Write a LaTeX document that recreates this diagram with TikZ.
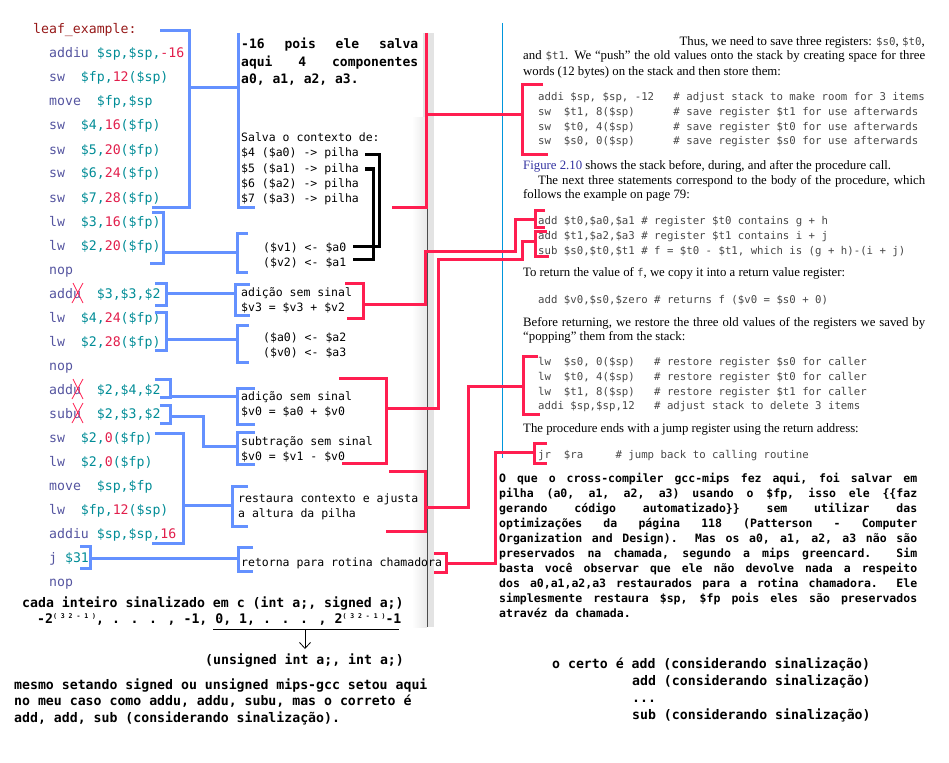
\documentclass[tikz,border=0pt]{standalone}
\usepackage{fontspec}
\setmainfont{Liberation Serif}
\newfontfamily\codefont{DejaVu Sans Mono}
\usepackage{xcolor}
\usetikzlibrary{arrows.meta}

\definecolor{mnem}{RGB}{85,85,160}
\definecolor{regc}{RGB}{0,140,150}
\definecolor{numc}{RGB}{225,30,75}
\definecolor{labc}{RGB}{150,25,25}
\definecolor{blu}{RGB}{100,145,255}
\definecolor{rd}{RGB}{255,30,80}
\definecolor{bkg}{RGB}{70,70,70}
\definecolor{figc}{RGB}{50,50,160}
\definecolor{pageln}{RGB}{0,150,220}

\newcommand{\mn}[1]{\textcolor{mnem}{#1}}
\newcommand{\rg}[1]{\textcolor{regc}{#1}}
\newcommand{\nm}[1]{\textcolor{numc}{#1}}
\newcommand{\bc}[1]{{\codefont\fontsize{10.8}{13}\selectfont\color{bkg}#1}}
\newcommand{\jus}[2]{{\spaceskip=\fontdimen2\font plus 1fil minus .3\fontdimen2\font\makebox[#1][s]{#2}}}
\newcommand{\pw}{\raisebox{5pt}{\fontsize{6.5}{7}\selectfont( 3 2 - 1 )}}

\tikzset{
  code/.style={font=\codefont\fontsize{13.2}{15}\selectfont, anchor=base west, inner sep=0pt},
  note/.style={font=\codefont\fontsize{11.5}{15}\selectfont, anchor=base west, inner sep=0pt},
  bnote/.style={font=\codefont\bfseries\fontsize{13}{17}\selectfont, anchor=base west, inner sep=0pt},
  bpar/.style={font=\codefont\bfseries\fontsize{11.5}{15}\selectfont, anchor=base west, inner sep=0pt},
  bbig/.style={font=\codefont\bfseries\fontsize{13.2}{17}\selectfont, anchor=base west, inner sep=0pt},
  book/.style={font=\fontsize{12.8}{15}\selectfont, anchor=base west, inner sep=0pt},
  bcode/.style={font=\codefont\fontsize{10.7}{13}\selectfont, text=bkg, anchor=base west, inner sep=0pt},
  blubr/.style={draw=blu, line width=3pt},
  redbr/.style={draw=rd, line width=3pt},
  blkbr/.style={draw=black, line width=3pt},
  cross/.style={draw=rd, line width=.8pt}
}

\begin{document}
\begin{tikzpicture}[x=1pt,y=-1pt]
\useasboundingbox (0,0) rectangle (949,762);

\fill[gray!22] (423,33) rectangle (434,118);
\shade[left color=white, right color=gray!18] (412,118) rectangle (427,627);
\fill[gray!22] (427,118) rectangle (434,627);
\draw[black!70, line width=1pt] (427.5,33) -- (427.5,627);
\draw[pageln, line width=.8pt] (502,23) -- (502,458);

\node[code, text=labc] (l0) at (33,34) {leaf\_example:};
\node[code] (l1) at (49,58) {\mn{addiu} \rg{\$sp,\$sp,}\nm{-16}};
\node[code] (l2) at (49,82) {\mn{sw}~~\rg{\$fp,}\nm{12}\rg{(\$sp)}};
\node[code] (l3) at (49,106) {\mn{move}~~\rg{\$fp,\$sp}};
\node[code] (l4) at (49,130) {\mn{sw}~~\rg{\$4,}\nm{16}\rg{(\$fp)}};
\node[code] (l5) at (49,154) {\mn{sw}~~\rg{\$5,}\nm{20}\rg{(\$fp)}};
\node[code] (l6) at (49,178) {\mn{sw}~~\rg{\$6,}\nm{24}\rg{(\$fp)}};
\node[code] (l7) at (49,202) {\mn{sw}~~\rg{\$7,}\nm{28}\rg{(\$fp)}};
\node[code] (l8) at (49,226) {\mn{lw}~~\rg{\$3,}\nm{16}\rg{(\$fp)}};
\node[code] (l9) at (49,250) {\mn{lw}~~\rg{\$2,}\nm{20}\rg{(\$fp)}};
\node[code] (l10) at (49,274) {\mn{nop}};
\node[code] (l11) at (49,298) {\mn{addu}~~\rg{\$3,\$3,\$2}};
\node[code] (l12) at (49,322) {\mn{lw}~~\rg{\$4,}\nm{24}\rg{(\$fp)}};
\node[code] (l13) at (49,346) {\mn{lw}~~\rg{\$2,}\nm{28}\rg{(\$fp)}};
\node[code] (l14) at (49,370) {\mn{nop}};
\node[code] (l15) at (49,394) {\mn{addu}~~\rg{\$2,\$4,\$2}};
\node[code] (l16) at (49,418) {\mn{subu}~~\rg{\$2,\$3,\$2}};
\node[code] (l17) at (49,442) {\mn{sw}~~\rg{\$2,}\nm{0}\rg{(\$fp)}};
\node[code] (l18) at (49,466) {\mn{lw}~~\rg{\$2,}\nm{0}\rg{(\$fp)}};
\node[code] (l19) at (49,490) {\mn{move}~~\rg{\$sp,\$fp}};
\node[code] (l20) at (49,514) {\mn{lw}~~\rg{\$fp,}\nm{12}\rg{(\$sp)}};
\node[code] (l21) at (49,538) {\mn{addiu} \rg{\$sp,\$sp,}\nm{16}};
\node[code] (l22) at (49,562) {\mn{j} \rg{\$31}};
\node[code] (l23) at (49,586) {\mn{nop}};

\draw[cross] (73,283) -- (83,303) (83,283) -- (72,303);
\draw[cross] (73,379) -- (83,399) (83,379) -- (72,399);
\draw[cross] (73,403) -- (83,423) (83,403) -- (72,423);

\node[bnote] (p1) at (241,49) {\jus{177pt}{-16 pois ele salva}};
\node[bnote] (p2) at (241,67) {\jus{177pt}{aqui 4 componentes}};
\node[bnote] (p3) at (241,84) {a0, a1, a2, a3.};
\node[note] (s0) at (241,142) {Salva o contexto de:};
\node[note] (s1) at (241,157) {\$4 (\$a0) -> pilha};
\node[note] (s2) at (241,172) {\$5 (\$a1) -> pilha};
\node[note] (s3) at (241,187) {\$6 (\$a2) -> pilha};
\node[note] (s4) at (241,202) {\$7 (\$a3) -> pilha};
\node[note] (v1) at (263,251) {(\$v1) <- \$a0};
\node[note] (v2) at (263,266) {(\$v2) <- \$a1};
\node[note] (a1) at (241,296) {adição sem sinal};
\node[note] (a2) at (241,311) {\$v3 = \$v3 + \$v2};
\node[note] (r1) at (263,341) {(\$a0) <- \$a2};
\node[note] (r2) at (263,356) {(\$v0) <- \$a3};
\node[note] (a3) at (241,400) {adição sem sinal};
\node[note] (a4) at (241,415) {\$v0 = \$a0 + \$v0};
\node[note] (u1) at (241,445) {subtração sem sinal};
\node[note] (u2) at (241,460) {\$v0 = \$v1 - \$v0};
\node[note] (e1) at (238,502) {restaura contexto e ajusta};
\node[note] (e2) at (238,517) {a altura da pilha};
\node[note] (j1) at (241,566) {retorna para rotina chamadora};

\draw[blubr] (160,31) -- (189,31) -- (189,207) -- (152,207) (189,88) -- (238,88) (238,33) -- (238,207) -- (255,207);
\draw[blubr] (152,212) -- (163,212) -- (163,263) -- (150,263) (163,252) -- (237,252) (248,233) -- (237,233) -- (237,272) -- (248,272);
\draw[blubr] (155,283) -- (166,283) -- (166,305) -- (155,305) (166,293) -- (235,293) (250,284) -- (235,284) -- (235,315) -- (250,315);
\draw[blubr] (155,312) -- (166,312) -- (166,350) -- (155,350) (166,339) -- (237,339) (249,325) -- (237,325) -- (237,362) -- (249,362);
\draw[blubr] (155,379) -- (170,379) -- (170,397) -- (160,397) (170,396) -- (237,396) (255,388) -- (237,388) -- (237,424) -- (255,424);
\draw[blubr] (160,405) -- (170,405) -- (170,423) -- (160,423) (170,416) -- (203,416) -- (203,446) -- (237,446) (255,432) -- (237,432) -- (237,464) -- (255,464);
\draw[blubr] (155,433) -- (183,433) -- (183,543) -- (152,543) (183,505) -- (232,505) (248,486) -- (232,486) -- (232,526) -- (248,526);
\draw[blubr] (80,546) -- (90,546) -- (90,568) -- (80,568) (90,558) -- (238,558) (253,547) -- (238,547) -- (238,571) -- (253,571);

\draw[blkbr] (365,155) -- (379,155) -- (379,246) -- (353,246);
\draw[blkbr] (365,169) -- (373,169) -- (373,259) -- (353,259);

\node[book, anchor=base east] (t0) at (925,46) {Thus, we need to save three registers: \bc{\$s0}, \bc{\$t0},};
\node[book] (t1) at (523,60) {\jus{402pt}{and \bc{\$t1}. We “push” the old values onto the stack by creating space for three}};
\node[book] (t2) at (523,76) {words (12 bytes) on the stack and then store them:};
\node[bcode] (c1) at (538,101) {addi \$sp, \$sp, -12~~~\# adjust stack to make room for 3 items};
\node[bcode] (c2) at (538,115.5) {sw~~\$t1, 8(\$sp)~~~~~~\# save register \$t1 for use afterwards};
\node[bcode] (c3) at (538,130.5) {sw~~\$t0, 4(\$sp)~~~~~~\# save register \$t0 for use afterwards};
\node[bcode] (c4) at (538,145) {sw~~\$s0, 0(\$sp)~~~~~~\# save register \$s0 for use afterwards};
\node[book] (t3) at (523,169) {\textcolor{figc}{Figure 2.10} shows the stack before, during, and after the procedure call.};
\node[book] (t4) at (538,184) {\jus{387pt}{The next three statements correspond to the body of the procedure, which}};
\node[book] (t5) at (523,198) {follows the example on page 79:};
\node[bcode] (c5) at (538,224) {add \$t0,\$a0,\$a1 \# register \$t0 contains g + h};
\node[bcode] (c6) at (538,239) {add \$t1,\$a2,\$a3 \# register \$t1 contains i + j};
\node[bcode] (c7) at (538,254) {sub \$s0,\$t0,\$t1 \# f = \$t0 - \$t1, which is (g + h)-(i + j)};
\node[book] (t6) at (523,276) {To return the value of \bc{f}, we copy it into a return value register:};
\node[bcode] (c8) at (538,303) {add \$v0,\$s0,\$zero \# returns f (\$v0 = \$s0 + 0)};
\node[book] (t7) at (523,326) {\jus{402pt}{Before returning, we restore the three old values of the registers we saved by}};
\node[book] (t8) at (523,340) {“popping” them from the stack:};
\node[bcode] (c9) at (538,365) {lw~~\$s0, 0(\$sp)~~~\# restore register \$s0 for caller};
\node[bcode] (c10) at (538,380) {lw~~\$t0, 4(\$sp)~~~\# restore register \$t0 for caller};
\node[bcode] (c11) at (538,395) {lw~~\$t1, 8(\$sp)~~~\# restore register \$t1 for caller};
\node[bcode] (c12) at (538,409) {addi \$sp,\$sp,12~~~\# adjust stack to delete 3 items};
\node[book] (t9) at (523,432) {The procedure ends with a jump register using the return address:};
\node[bcode] (c13) at (538,458) {jr~~\$ra~~~~~\# jump back to calling routine};

\draw[redbr] (392,207) -- (426,207) -- (426,33) (426,115) -- (522,115) (543,85) -- (522,85) -- (522,155) -- (548,155);
\draw[redbr] (345,283) -- (363,283) -- (363,318) -- (347,318) (363,304) -- (425,304) -- (425,251) -- (515,251) -- (515,219) -- (535,219) (545,210) -- (535,210) -- (535,227) -- (545,227);
\draw[redbr] (339,378) -- (386,378) -- (386,463) -- (342,463) (386,408) -- (438,408) -- (438,259) -- (522,259) -- (522,241) -- (535,241) (547,231) -- (535,231) -- (535,256) -- (549,256);
\draw[redbr] (389,471) -- (425,471) -- (425,531) -- (386,531) (425,507) -- (468,507) -- (468,386) -- (523,386) (538,356) -- (523,356) -- (523,414) -- (540,414);
\draw[redbr] (434,553) -- (446,553) -- (446,572) -- (434,572) (446,563) -- (495,563) -- (495,452) -- (534,452) (547,443) -- (534,443) -- (534,463) -- (547,463);

\node[bpar] (q1) at (499,482) {\jus{418pt}{O que o cross-compiler gcc-mips fez aqui, foi salvar em}};
\node[bpar] (q2) at (499,497) {\jus{418pt}{pilha (a0, a1, a2, a3) usando o \$fp, isso ele \{\{faz}};
\node[bpar] (q3) at (499,512) {\jus{418pt}{gerando código automatizado\}\} sem utilizar das}};
\node[bpar] (q4) at (499,527) {\jus{418pt}{optimizações da página 118 (Patterson - Computer}};
\node[bpar] (q5) at (499,542) {\jus{418pt}{Organization and Design). Mas os a0, a1, a2, a3 não são}};
\node[bpar] (q6) at (499,557) {\jus{418pt}{preservados na chamada, segundo a mips greencard. Sim}};
\node[bpar] (q7) at (499,572) {\jus{418pt}{basta você observar que ele não devolve nada a respeito}};
\node[bpar] (q8) at (499,587) {\jus{418pt}{dos a0,a1,a2,a3 restaurados para a rotina chamadora. Ele}};
\node[bpar] (q9) at (499,602) {\jus{418pt}{simplesmente restaura \$sp, \$fp pois eles são preservados}};
\node[bpar] (q10) at (499,617) {atravéz da chamada.};

\node[bbig] (sig) at (22,607) {cada inteiro sinalizado em c (int a;, signed a;)};
\node[bbig] (rng) at (37,623) {-2\pw, . . . , -1, 0, 1, . . . , 2\pw-1};
\coordinate (ua) at (213,629);
\coordinate (ub) at (399,629);
\coordinate (uc) at (305,629);
\coordinate (ud) at (305,649);
\draw[line width=1pt] (ua) -- (ub);
\draw[line width=.8pt, -{Straight Barb[length=6pt,width=11pt]}] (uc) -- (ud);
\node[bbig] (uns) at (205,664) {(unsigned int a;, int a;)};
\node[bbig] (m1) at (14,689) {mesmo setando signed ou unsigned mips-gcc setou aqui};
\node[bbig] (m2) at (14,705) {no meu caso como addu, addu, subu, mas o correto é};
\node[bbig] (m3) at (14,722) {add, add, sub (considerando sinalização).};

\node[bbig] (k1) at (552,668) {o certo é add (considerando sinalização)};
\node[bbig] (k2) at (632,685) {add (considerando sinalização)};
\node[bbig] (k3) at (632,702) {...};
\node[bbig] (k4) at (632,719) {sub (considerando sinalização)};
\end{tikzpicture}
\end{document}
